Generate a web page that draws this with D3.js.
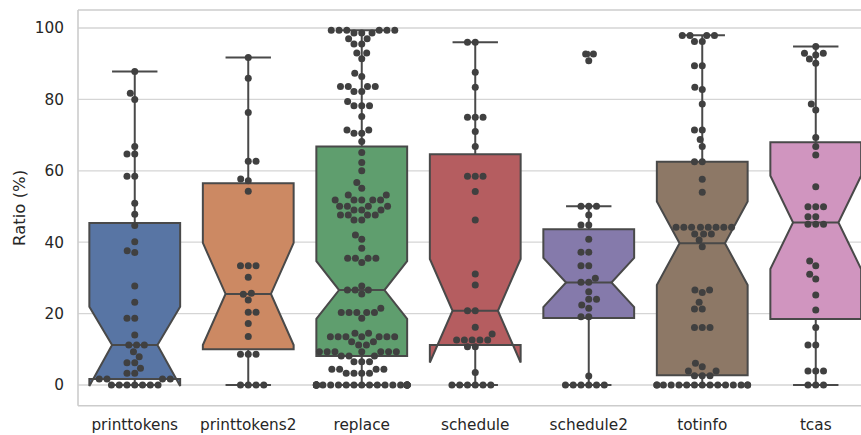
<!DOCTYPE html>
<html><head><meta charset="utf-8">
<script src="https://cdn.jsdelivr.net/npm/d3@7"></script>
<style>
body{margin:0;background:#fff}
svg{display:block}
text{font-family:"DejaVu Sans",sans-serif;fill:#262626}
</style>
</head><body>
<svg id="chart" width="861" height="435"></svg>
<script>
// ---- data ----
const categories = ["printtokens","printtokens2","replace","schedule","schedule2","totinfo","tcas"];
const boxColors = ["#5875a4","#cc8963","#5f9e6e","#b55d60","#857aab","#8d7866","#d095bf"];
const q1        = [1.7, 10.0, 8.1, 11.2, 18.8, 2.7, 18.5];
const medians   = [11.2, 25.5, 26.6, 20.8, 28.7, 39.7, 45.5];
const q3        = [45.4, 56.5, 66.8, 64.6, 43.6, 62.5, 68.0];
const notchLo   = [-0.3, 11.2, 18.5, 6.3, 21.8, 28.0, 32.5];
const notchHi   = [21.9, 39.8, 34.7, 35.3, 35.6, 51.4, 58.6];
const whiskerLo = [0, 0, 0, 0, 0, 0, 0];
const whiskerHi = [87.8, 91.7, 99.4, 96.0, 50.1, 98.0, 94.8];
const fliers    = [[], [], [], [], [90.8, 92.7, 92.7], [], []];
const yTicks = [0, 20, 40, 60, 80, 100];
const yLabel = "Ratio (%)";

const ptsPrinttokens = [0,0,0,0,0,0,0, 1.7,1.7,1.7,1.7, 3.3,3.3, 4.7, 6.2,6.2, 7.9, 9.3, 11.2,11.2,11.2, 14.0, 18.7,18.7, 23.2, 27.7, 37.1, 37.6, 40.1, 44.7, 47.8, 50.9, 58.5,58.5, 64.7,64.7, 66.8, 80.0, 81.7, 87.8];
const ptsPrinttokens2 = [0,0,0,0, 8.6,8.6,8.6, 13.6, 17.2, 20.4,20.4, 23.8, 25.4, 25.7, 30.2, 33.4,33.4,33.4, 54.3, 57.2, 57.7, 62.7,62.7, 76.3, 85.9, 91.7];
const ptsReplace = [0,0,0,0,0,0,0,0,0,0,0,0,0,0,0,0,0,0,0,0,0,0,
  3.3,3.3,3.3,3.3, 4.4,4.4,4.4,4.4, 6.5,6.5,6.5, 8.1,8.1,8.1, 9.3,9.3,9.3,9.3,9.3,9.3,9.3,
  11.2,11.2, 12.1,12.1, 13.5,13.5,13.5,13.5,13.5,13.5,13.5, 14.5,14.5, 18.7, 20.3,20.3,20.3,20.3,20.3, 21.5, 25.5,
  26.6,26.6,26.6, 27.7, 34.3, 35.5,35.5,35.5,35.5, 38.3, 40.8, 42.0, 46.2,46.2, 47.6,47.6,47.6,47.6, 49.0,49.0,49.0,
  50.1,50.1,50.1,50.1, 51.8,51.8,51.8,51.8,51.8, 53.2,53.2, 55.1, 56.7, 60.0, 62.3, 65.1, 68.2, 70.5,70.5, 71.4,71.4,
  75.2, 78.2,78.2,78.2, 79.4, 82.2,82.2, 83.6,83.6,83.6,83.6, 86.4, 87.3, 91.4, 93.0,93.0, 95.5,95.5, 97.0,97.0,
  98.6,98.6,98.6, 99.4,99.4,99.4,99.4,99.4,99.4];
const ptsSchedule = [0,0,0,0,0,0, 3.5, 10.7,10.7, 12.6,12.6,12.6,12.6,12.6, 14.3, 16.2, 20.8,20.8, 28.0, 31.1, 46.2, 54.2, 58.5,58.5,58.5, 66.8, 71.0, 75.0,75.0,75.0, 83.4, 87.6, 96.0,96.0];
const ptsSchedule2 = [0,0,0,0,0,0, 2.5, 19.1,19.1, 21.5, 22.4, 24.0,24.0, 26.1, 28.8,28.8, 29.9, 33.4,33.4, 37.2,37.2, 40.8, 44.8,44.8, 47.6, 50.1,50.1,50.1, 90.8, 92.7,92.7];
const ptsTotinfo = [0,0,0,0,0,0,0,0,0,0,0,0,0,0,0, 2.6,2.6,2.6, 3.9,3.9, 5.1, 6.1, 16.1,16.1,16.1, 21.3,21.3, 23.2, 25.9, 26.6,26.6, 38.7, 40.6, 42.3,42.3,42.3, 44.2,44.2,44.2,44.2,44.2,44.2,44.2,44.2, 54.0, 57.6, 62.5,62.5, 66.8, 68.8, 71.4,71.4, 78.7, 82.8, 83.4, 89.4,89.4, 96.2,96.2, 97.9,97.9,97.9,97.9];
const ptsTcas = [0,0,0, 3.9,3.9,3.9, 11.2,11.2, 16.1, 21.0, 25.2, 29.7, 31.0, 33.4, 34.7, 45.0,45.0,45.0, 47.1,47.1, 49.9,49.9,49.9, 55.5, 64.4, 66.8, 69.3, 77.0, 78.7, 90.1, 91.3, 92.4, 92.9,92.9, 94.8];
const swarmData = [ptsPrinttokens, ptsPrinttokens2, ptsReplace, ptsSchedule, ptsSchedule2, ptsTotinfo, ptsTcas];

// ---- layout ----
const W = 861, H = 435;
const plotLeft = 78, plotTop = 10, plotBottom = 405.7;
const svg = d3.select("#chart");

const x = d3.scaleBand().domain(categories).range([plotLeft, plotLeft + 7 * 113.5]).padding(0);
const y = d3.scaleLinear().domain([-5.8, 105.04]).range([plotBottom, plotTop]);
const bw = x.bandwidth();
const boxW = bw * 0.8;
const lineColor = "#494949";
const dotColor = "#404040";
const tickFont = 15.3;

// grid
svg.append("g").selectAll("line").data(yTicks).join("line")
  .attr("x1", plotLeft).attr("x2", W)
  .attr("y1", d => y(d)).attr("y2", d => y(d))
  .attr("stroke", "#d5d5d5").attr("stroke-width", 1.3);

// spines
const sp = svg.append("g").attr("stroke", "#cccccc").attr("stroke-width", 1.6);
sp.append("line").attr("x1", plotLeft).attr("x2", plotLeft).attr("y1", plotTop).attr("y2", plotBottom);
sp.append("line").attr("x1", plotLeft).attr("x2", W).attr("y1", plotBottom).attr("y2", plotBottom);
sp.append("line").attr("x1", plotLeft).attr("x2", W).attr("y1", plotTop).attr("y2", plotTop);

// y axis labels
const yAxis = svg.append("g").attr("transform", `translate(${plotLeft},0)`)
  .call(d3.axisLeft(y).tickValues(yTicks).tickSize(0).tickPadding(14).tickFormat(d3.format("d")));
yAxis.select(".domain").remove();
yAxis.selectAll("text").attr("font-size", tickFont).attr("fill", "#262626").attr("font-family", "DejaVu Sans");

// x axis labels
const xAxis = svg.append("g").attr("transform", `translate(0,${plotBottom})`)
  .call(d3.axisBottom(x).tickSize(0).tickPadding(13.4));
xAxis.select(".domain").remove();
xAxis.selectAll("text").attr("font-size", tickFont).attr("fill", "#262626").attr("font-family", "DejaVu Sans");

// y label
svg.append("text").attr("transform", `translate(25,${(plotTop + plotBottom) / 2}) rotate(-90)`)
  .attr("text-anchor", "middle").attr("font-size", 16.5).text(yLabel);

// boxes
const boxes = svg.append("g");
categories.forEach((c, i) => {
  const cx = x(c) + bw / 2;
  const L = cx - boxW / 2, R = cx + boxW / 2, iL = cx - boxW / 4, iR = cx + boxW / 4;
  const g = boxes.append("g");
  g.append("line").attr("x1", cx).attr("x2", cx).attr("y1", y(q3[i])).attr("y2", y(whiskerHi[i]))
    .attr("stroke", lineColor).attr("stroke-width", 2);
  g.append("line").attr("x1", cx).attr("x2", cx).attr("y1", y(q1[i])).attr("y2", y(whiskerLo[i]))
    .attr("stroke", lineColor).attr("stroke-width", 2);
  [whiskerHi[i], whiskerLo[i]].forEach(v => {
    g.append("line").attr("x1", iL).attr("x2", iR).attr("y1", y(v)).attr("y2", y(v))
      .attr("stroke", lineColor).attr("stroke-width", 2);
  });
  const p = d3.path();
  p.moveTo(L, y(q1[i]));
  p.lineTo(L, y(notchLo[i]));
  p.lineTo(iL, y(medians[i]));
  p.lineTo(L, y(notchHi[i]));
  p.lineTo(L, y(q3[i]));
  p.lineTo(R, y(q3[i]));
  p.lineTo(R, y(notchHi[i]));
  p.lineTo(iR, y(medians[i]));
  p.lineTo(R, y(notchLo[i]));
  p.lineTo(R, y(q1[i]));
  p.closePath();
  g.append("path").attr("d", p.toString()).attr("fill", boxColors[i])
    .attr("stroke", lineColor).attr("stroke-width", 2).attr("stroke-linejoin", "miter");
  g.append("line").attr("x1", iL).attr("x2", iR).attr("y1", y(medians[i])).attr("y2", y(medians[i]))
    .attr("stroke", lineColor).attr("stroke-width", 2);
  g.selectAll("path.flier").data(fliers[i]).join("path").attr("class", "flier")
    .attr("d", v => `M${cx},${y(v) - 3.4}L${cx + 2.1},${y(v)}L${cx},${y(v) + 3.4}L${cx - 2.1},${y(v)}Z`)
    .attr("fill", lineColor);
});

// beeswarm (seaborn-like)
function swarm(values, cx, halfW) {
  const r = 3.7;
  const pts = values.map(v => ({ v, x: cx, y: y(v) })).sort((a, b) => a.v - b.v);
  const placed = [];
  for (const p of pts) {
    const neighbors = placed.filter(q => Math.abs(q.y - p.y) < 2 * r);
    const cands = [p.x];
    let leftFirst = true;
    for (const q of neighbors) {
      const dy = p.y - q.y;
      const dx = Math.sqrt(Math.max(4 * r * r - dy * dy, 0)) * 1.05;
      const cl = q.x - dx, cr = q.x + dx;
      if (leftFirst) cands.push(cl, cr); else cands.push(cr, cl);
      leftFirst = !leftFirst;
    }
    const order = cands.map((c, k) => k)
      .sort((a, b) => (Math.abs(cands[a] - cx) - Math.abs(cands[b] - cx)) || (a - b));
    let chosen = cands[order[0]];
    for (const k of order) {
      const c = cands[k];
      if (neighbors.every(q => (c - q.x) ** 2 + (p.y - q.y) ** 2 >= 4 * r * r - 1e-6)) { chosen = c; break; }
    }
    p.x = chosen;
    placed.push(p);
  }
  placed.forEach(p => { p.x = Math.max(cx - halfW, Math.min(cx + halfW, p.x)); });
  return placed;
}

const dots = svg.append("g");
categories.forEach((c, i) => {
  const cx = x(c) + bw / 2;
  const placed = swarm(swarmData[i], cx, boxW / 2);
  dots.append("g").selectAll("circle").data(placed).join("circle")
    .attr("cx", d => d.x).attr("cy", d => d.y).attr("r", 3.5).attr("fill", dotColor);
});
</script>
</body></html>
